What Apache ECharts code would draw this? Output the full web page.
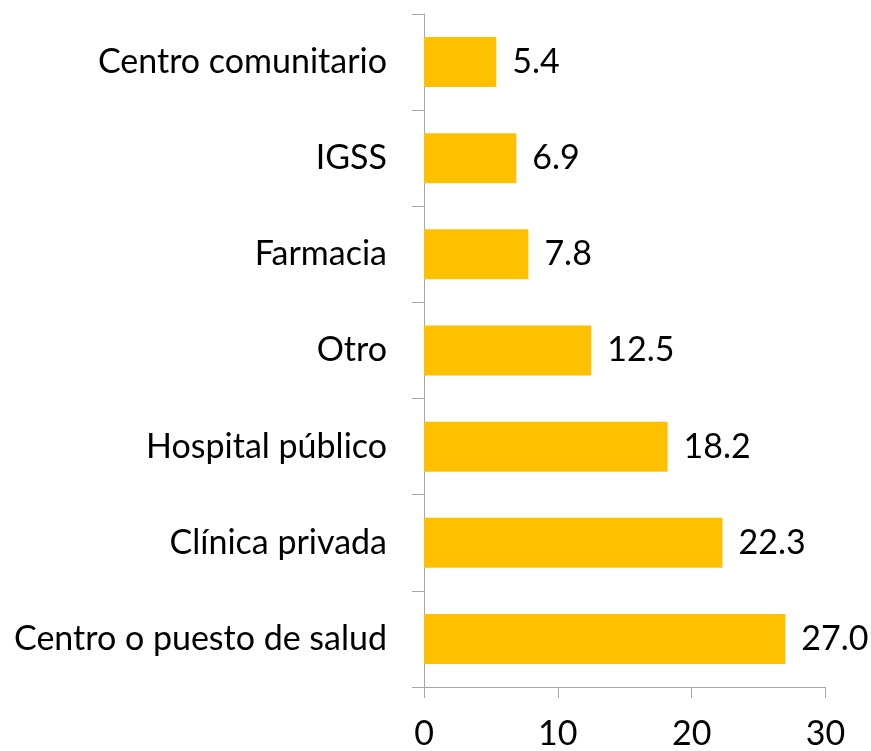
<!DOCTYPE html>
<html>
<head>
<meta charset="utf-8">
<script src="https://cdn.jsdelivr.net/npm/echarts@6/dist/echarts.min.js"></script>
<style>
  html, body { margin: 0; padding: 0; background: #ffffff; }
  #chart { width: 871px; height: 751px; }
</style>
</head>
<body>
<div id="chart"></div>
<script>
// Lugar de atención (porcentaje), de abajo hacia arriba
const categories = [
  'Centro o puesto de salud',
  'Clínica privada',
  'Hospital público',
  'Otro',
  'Farmacia',
  'IGSS',
  'Centro comunitario'
];
const values = [27.0, 22.3, 18.2, 12.5, 7.8, 6.9, 5.4];
const xTicks = [0, 10, 20, 30];

const FONT = 'Lato';
const AXIS_COLOR = '#A6A6A6';

const chart = echarts.init(document.getElementById('chart'), null, { renderer: 'canvas' });

chart.setOption({
  animation: false,
  backgroundColor: '#ffffff',
  grid: { left: 424, right: 45.5, top: 14, bottom: 62.3, containLabel: false },
  xAxis: {
    type: 'value',
    min: xTicks[0],
    max: xTicks[xTicks.length - 1],
    interval: 10,
    splitLine: { show: false },
    axisLine: { show: true, lineStyle: { color: AXIS_COLOR, width: 1 } },
    axisTick: { show: true, length: 11, lineStyle: { color: AXIS_COLOR } },
    axisLabel: {
      margin: 30,
      color: '#000000',
      fontFamily: FONT,
      fontSize: 34
    }
  },
  yAxis: {
    type: 'category',
    data: categories,
    axisLine: { show: true, lineStyle: { color: AXIS_COLOR, width: 1 } },
    axisTick: { show: true, length: 12, alignWithLabel: false, lineStyle: { color: AXIS_COLOR } },
    axisLabel: {
      margin: 37,
      color: '#000000',
      fontFamily: FONT,
      fontSize: 34
    }
  },
  series: [{
    type: 'bar',
    data: values,
    barCategoryGap: '48%',
    itemStyle: { color: '#FFC000' },
    label: {
      show: true,
      position: 'right',
      distance: 16,
      color: '#000000',
      fontFamily: FONT,
      fontSize: 34,
      formatter: p => p.value.toFixed(1)
    }
  }]
});
</script>
</body>
</html>
